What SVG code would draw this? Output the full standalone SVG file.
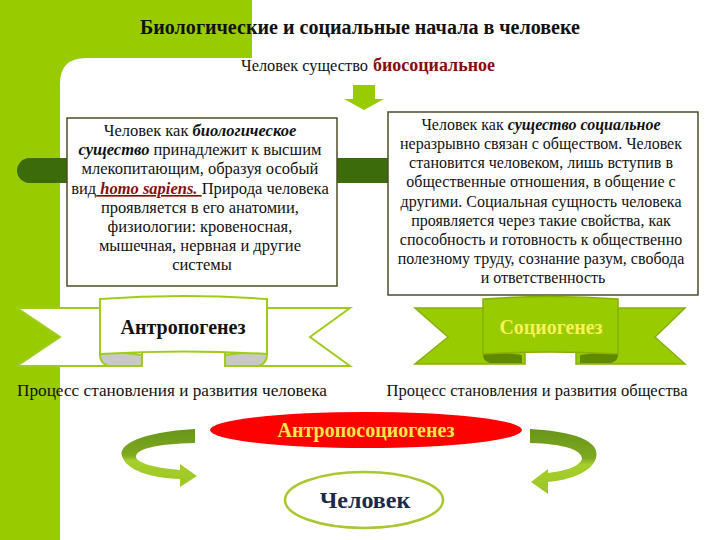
<svg xmlns="http://www.w3.org/2000/svg" width="720" height="540" viewBox="0 0 720 540" font-family="'Liberation Serif', 'DejaVu Serif', 'Times New Roman', serif">
<style>
text{font-family:"Liberation Serif","DejaVu Serif","Times New Roman",serif;fill:#111}
.tl{font-size:16.5px}
.tr{font-size:16px}
.bi{font-weight:bold;font-style:italic}
.box{fill:#fff;stroke:#4d4d2b;stroke-width:1.5}
.rib-w{fill:#fff;stroke:#9fcc1a;stroke-width:2}
.rib-g{fill:#99cc00;stroke:#86b000;stroke-width:1.5}
.arrow{fill:url(#ag)}
</style>
<defs>
<linearGradient id="ag" x1="0" y1="0" x2="0" y2="1">
<stop offset="0" stop-color="#67951a"/>
<stop offset="0.45" stop-color="#7fa91f"/>
<stop offset="0.55" stop-color="#a6cf2b"/>
<stop offset="1" stop-color="#9cc626"/>
</linearGradient>
</defs>
<rect width="720" height="540" fill="#fff"/>
<path d="M0,0 H252 V58 H86 Q60,58 60,84 V540 H0 Z" fill="#99cc00"/>
<rect x="17" y="158" width="385" height="25" rx="12.5" fill="#3b6b0b"/>

<g id="title">
<text x="360" y="34" text-anchor="middle" font-size="20" font-weight="bold" textLength="440" lengthAdjust="spacingAndGlyphs">Биологические и социальные начала в человеке</text>
</g>
<g id="subtitle">
<text x="241" y="71" font-size="16.5" textLength="127" lengthAdjust="spacingAndGlyphs">Человек  существо</text>
<text x="373" y="71" font-size="18" font-weight="bold" style="fill:#8b0a0a" textLength="122" lengthAdjust="spacingAndGlyphs">биосоциальное</text>
</g>

<g id="connectors">
<polygon points="353,85 375,85 375,99 384,99 364,110 344,99 353,99" fill="#99cc00"/>
<path class="arrow" d="M195,429 C140,432 118,445 122,456 C126,470 150,478 180,479 L180,487 L197,476 L180,464 L180,470 C155,468 137,463 136,457 C136,449 155,444 195,443 Z"/>
<path class="arrow" d="M530,429 C585,432 600,445 596,458 C592,472 570,480 548,482 L548,494 L531,482 L548,469 L548,473 C566,471 580,466 582,459 C582,450 565,444 530,443 Z"/>
</g>

<g id="bio-box">
<rect class="box" x="67" y="118" width="270" height="168"/>
<text class="tl" text-anchor="middle">
<tspan x="202" y="136">Человек как <tspan class="bi">биологическое</tspan></tspan>
<tspan x="202" y="155"><tspan class="bi">существо</tspan> принадлежит к высшим</tspan>
<tspan x="202" y="174">млекопитающим, образуя особый</tspan>
<tspan x="202" y="194">вид<tspan class="bi" style="fill:#8b0a0a" text-decoration="underline"> homo sapiens. </tspan>Природа человека</tspan>
<tspan x="202" y="213">проявляется  в его анатомии,</tspan>
<tspan x="202" y="232">физиологии: кровеносная,</tspan>
<tspan x="202" y="251">мышечная, нервная и другие</tspan>
<tspan x="202" y="270">системы</tspan>
</text>
</g>

<g id="social-box">
<rect class="box" x="388" y="112" width="310" height="183"/>
<text class="tr" text-anchor="middle">
<tspan x="543" y="130">Человек как <tspan class="bi">существо социальное</tspan></tspan>
<tspan x="543" y="149">неразрывно связан с обществом. Человек</tspan>
<tspan x="543" y="168">становится человеком, лишь вступив в</tspan>
<tspan x="543" y="187">общественные отношения, в общение с</tspan>
<tspan x="543" y="207">другими. Социальная сущность человека</tspan>
<tspan x="543" y="226">проявляется  через такие свойства, как</tspan>
<tspan x="543" y="245">способность и готовность  к общественно</tspan>
<tspan x="543" y="264">полезному труду, сознание разум, свобода</tspan>
<tspan x="543" y="283">и ответственность</tspan>
</text>
</g>

<g id="antropogenez">
<polygon class="rib-w" points="17,308 142,308 142,366 17,366 60,337"/>
<polygon class="rib-w" points="225,308 350,308 310,337 350,366 225,366"/>
<path d="M100,350 L142,355 L142,366 L108,366 Q100,363 100,355 Z" fill="#c8c8c8" stroke="#9fcc1a" stroke-width="2"/>
<path d="M267,350 L225,355 L225,366 L259,366 Q267,363 267,355 Z" fill="#c8c8c8" stroke="#9fcc1a" stroke-width="2"/>
<path class="rib-w" d="M100,299 Q183,293 267,299 L267,354 Q183,349 100,354 Z"/>
<text x="183" y="334" text-anchor="middle" font-size="20.5" font-weight="bold" textLength="125" lengthAdjust="spacingAndGlyphs">Антропогенез</text>
</g>

<g id="sociogenez">
<polygon class="rib-g" points="415,308 525,308 525,364 415,364 448,337"/>
<polygon class="rib-g" points="576,308 685,308 655,337 685,364 576,364"/>
<path d="M483,350 L522,355 L522,363 L490,363 Q483,361 483,355 Z" fill="#5f8a00"/>
<path d="M618,350 L580,355 L580,363 L611,363 Q618,361 618,355 Z" fill="#5f8a00"/>
<path class="rib-g" d="M483,299 Q550,294 618,299 L618,354 Q550,350 483,354 Z"/>
<text x="551" y="334" text-anchor="middle" font-size="20" font-weight="bold" style="fill:#f7f25a" textLength="103" lengthAdjust="spacingAndGlyphs">Социогенез</text>
</g>

<g id="captions">
<text x="172" y="396" text-anchor="middle" font-size="17" textLength="310" lengthAdjust="spacingAndGlyphs">Процесс становления и развития человека</text>
<text x="537" y="396" text-anchor="middle" font-size="17" textLength="301" lengthAdjust="spacingAndGlyphs">Процесс становления и развития общества</text>
</g>

<g id="antroposociogenez">
<ellipse cx="366" cy="430" rx="156" ry="18" fill="#ff0000"/>
<text x="366" y="437" text-anchor="middle" font-size="20" font-weight="bold" style="fill:#f7e84a" textLength="177" lengthAdjust="spacingAndGlyphs">Антропосоциогенез</text>
</g>

<g id="chelovek">
<ellipse cx="364" cy="500" rx="79" ry="28" fill="#fff" stroke="#a8c832" stroke-width="2.5"/>
<text x="365" y="508" text-anchor="middle" font-size="24" font-weight="bold" style="fill:#1b2a4a">Человек</text>
</g>
</svg>
